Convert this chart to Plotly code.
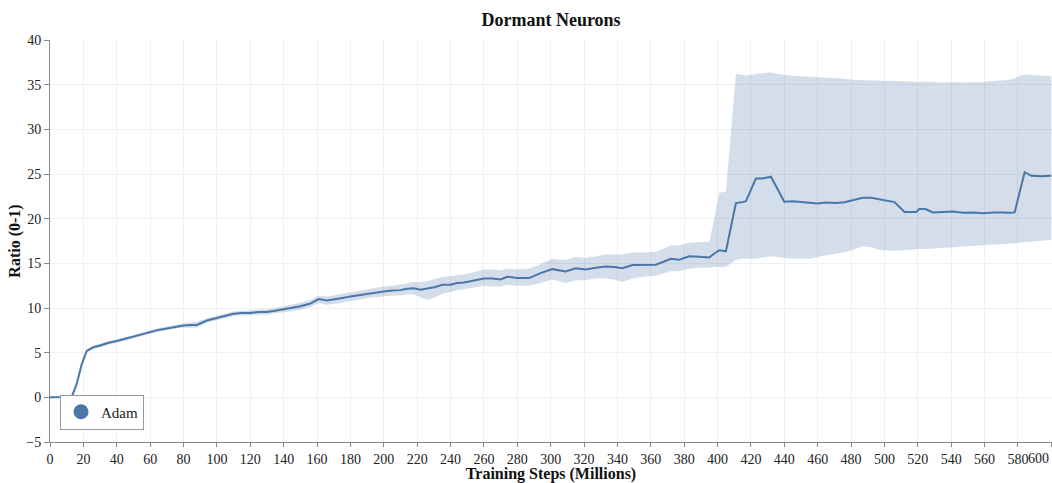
import plotly.graph_objects as go

steps = [0, 5, 10, 13, 16, 19, 22, 26, 30, 35, 40, 45, 50, 55, 60, 65, 70, 75, 80, 85,
         88, 94, 100, 105, 110, 115, 120, 125, 130, 135, 140, 145, 150, 156, 161, 166, 172, 176, 180, 185,
         190, 195, 200, 205, 210, 214, 218, 222, 226, 231, 235, 240, 244, 248, 252, 256, 260, 265, 270, 274,
         280, 287, 294, 301, 305, 309, 315, 321, 327, 333, 338, 343, 349, 356, 363, 368, 372, 377, 383, 389,
         395, 398, 401, 405, 408, 411, 415, 417, 423, 427, 432, 436, 440, 445, 450, 455, 460, 465, 471, 476,
         481, 487, 492, 497, 502, 506, 509, 512, 516, 519, 521, 525, 529, 535, 541, 547, 553, 559, 565, 571,
         575, 578, 581, 584, 588, 594, 600]

adam_mean = [0, 0, 0, 0.05, 1.5, 3.7, 5.2, 5.6, 5.8, 6.1, 6.3, 6.55, 6.75, 7.05, 7.3, 7.55, 7.7, 7.9, 8.05, 8.1,
             8.1, 8.6, 8.85, 9.1, 9.35, 9.45, 9.45, 9.55, 9.55, 9.7, 9.85, 10.0, 10.2, 10.5, 11.0, 10.85, 11.0, 11.15, 11.3, 11.45,
             11.6, 11.75, 11.85, 11.95, 12.0, 12.15, 12.2, 12.05, 12.2, 12.35, 12.6, 12.6, 12.8, 12.85, 13.0, 13.15, 13.3, 13.3, 13.2, 13.5,
             13.35, 13.35, 13.9, 14.35, 14.2, 14.1, 14.45, 14.3, 14.5, 14.65, 14.6, 14.45, 14.8, 14.85, 14.85, 15.2, 15.5, 15.4, 15.8, 15.75,
             15.65, 16.1, 16.45, 16.35, 19.0, 21.75, 21.85, 21.95, 24.5, 24.5, 24.7, 23.3, 21.9, 21.95, 21.85, 21.8, 21.7, 21.8, 21.75, 21.85,
             22.1, 22.35, 22.35, 22.2, 22.0, 21.85, 21.3, 20.75, 20.75, 20.75, 21.1, 21.05, 20.7, 20.75, 20.8, 20.65, 20.7, 20.6, 20.7, 20.7,
             20.65, 20.7, 23.0, 25.2, 24.8, 24.75, 24.8]

adam_lower = [0, 0, 0, 0, 1.3, 3.5, 5.0, 5.45, 5.6, 5.9, 6.1, 6.35, 6.55, 6.85, 7.1, 7.35, 7.5, 7.7, 7.8, 7.75,
              7.8, 8.35, 8.6, 8.85, 9.1, 9.2, 9.15, 9.25, 9.25, 9.4, 9.5, 9.65, 9.8, 10.1, 10.55, 10.35, 10.5, 10.65, 10.8, 10.95,
              11.1, 11.2, 11.3, 11.4, 11.4, 11.55, 11.5, 11.2, 10.9, 11.2, 11.6, 11.8, 12.0, 12.1, 12.2, 12.35, 12.5, 12.4, 12.4, 12.6,
              12.5, 12.5, 12.8, 13.2, 13.0, 12.8, 13.1, 13.1, 13.3, 13.3, 13.2, 12.9, 13.3, 13.5, 13.6, 13.9, 14.1, 14.1, 14.4, 14.5,
              14.5, 14.6, 14.6, 14.6, 15.0, 15.4, 15.5, 15.5, 15.5, 15.65, 15.8, 15.7, 15.6, 15.5, 15.5, 15.5, 15.7, 15.9, 16.1, 16.25,
              16.5, 16.9, 16.8, 16.5, 16.4, 16.4, 16.45, 16.5, 16.5, 16.55, 16.6, 16.6, 16.65, 16.75, 16.85, 16.9, 16.95, 17.05, 17.1, 17.15,
              17.2, 17.3, 17.3, 17.4, 17.45, 17.5, 17.6]

adam_upper = [0, 0, 0, 0.1, 1.7, 3.9, 5.4, 5.8, 6.0, 6.3, 6.5, 6.75, 6.95, 7.25, 7.5, 7.75, 7.9, 8.1, 8.3, 8.4,
              8.45, 8.85, 9.1, 9.35, 9.6, 9.7, 9.75, 9.85, 9.85, 10.0, 10.2, 10.35, 10.6, 10.9, 11.4, 11.3, 11.5, 11.65, 11.8, 11.95,
              12.1, 12.3, 12.4, 12.5, 12.6, 12.75, 12.9, 12.9, 13.0, 13.3, 13.5, 13.55, 13.7, 13.75, 13.9, 14.1, 14.3, 14.3, 14.2, 14.4,
              14.3, 14.4, 14.9, 15.5, 15.4, 15.4, 15.7, 15.6, 15.8, 16.0, 16.0, 16.0, 16.2, 16.2, 16.3, 16.7, 17.0, 17.0, 17.3, 17.4,
              17.4, 20.0, 22.9, 23.0, 30.0, 36.2, 36.1, 36.0, 36.2, 36.3, 36.4, 36.2, 36.1, 36.0, 35.95, 35.9, 35.8, 35.8, 35.7, 35.65,
              35.55, 35.5, 35.5, 35.45, 35.4, 35.45, 35.4, 35.35, 35.35, 35.3, 35.3, 35.35, 35.3, 35.25, 35.3, 35.25, 35.3, 35.3, 35.4, 35.5,
              35.55, 35.7, 36.0, 36.15, 36.1, 36.0, 35.95]

x_ticks = list(range(0, 601, 20))
x_labels = [str(v) if v < 600 else "" for v in x_ticks]   # last label drawn clamped inside below
last_x_label = "600"
y_ticks = list(range(-5, 41, 5))

LINE = "#4a77a8"
BAND = "rgba(74,119,168,0.24)"
FONT = "Liberation Serif, Times New Roman, serif"

fig = go.Figure()
fig.add_trace(go.Scatter(x=steps, y=adam_lower, mode="lines", line=dict(width=0),
                         showlegend=False, hoverinfo="skip"))
fig.add_trace(go.Scatter(x=steps, y=adam_upper, mode="lines", line=dict(width=0),
                         fill="tonexty", fillcolor=BAND, showlegend=False, hoverinfo="skip"))
fig.add_trace(go.Scatter(x=steps, y=adam_mean, mode="lines", line=dict(color=LINE, width=2),
                         name="Adam", showlegend=False))
fig.add_trace(go.Scatter(x=[None], y=[None], mode="markers", name="Adam",
                         marker=dict(color=LINE, size=15, symbol="circle")))

fig.update_layout(
    width=1052, height=483,
    margin=dict(l=50, r=0, t=40, b=41),
    paper_bgcolor="white", plot_bgcolor="white",
    font=dict(family=FONT, size=14, color="#222"),
    title=dict(text="<b>Dormant Neurons</b>", x=0.5, xref="paper", xanchor="center",
               y=0.96, yref="container", yanchor="middle",
               font=dict(family=FONT, size=18, color="#111")),
    legend=dict(x=0.01, y=0.118, xanchor="left", yanchor="top",
                bgcolor="white", bordercolor="#999", borderwidth=1,
                font=dict(family=FONT, size=15, color="#222"),
                itemwidth=30, tracegroupgap=0, itemsizing="trace"),
    showlegend=True,
)
fig.update_xaxes(range=[0, 600.4], tickvals=x_ticks, ticktext=x_labels,
                 ticks="outside", ticklen=4,
                 tickcolor="#888", showline=True, linecolor="#888", linewidth=1,
                 showgrid=True, gridcolor="#f0f0f0", zeroline=False,
                 title=dict(text="<b>Training Steps (Millions)</b>", standoff=3,
                            font=dict(family=FONT, size=16, color="#111")))
fig.update_yaxes(range=[-5, 40], tickvals=y_ticks, ticks="outside", ticklen=5,
                 tickcolor="#888", showline=True, linecolor="#888", linewidth=1,
                 showgrid=True, gridcolor="#f0f0f0", zeroline=False,
                 title=dict(text="<b>Ratio (0-1)</b>", standoff=1,
                            font=dict(family=FONT, size=16, color="#111")))

fig.add_annotation(text=last_x_label, x=x_ticks[-1], xref="x", xanchor="right",
                   y=0, yref="paper", yanchor="top", yshift=-7, showarrow=False,
                   font=dict(family=FONT, size=14, color="#222"))

fig.write_html("out.html")
